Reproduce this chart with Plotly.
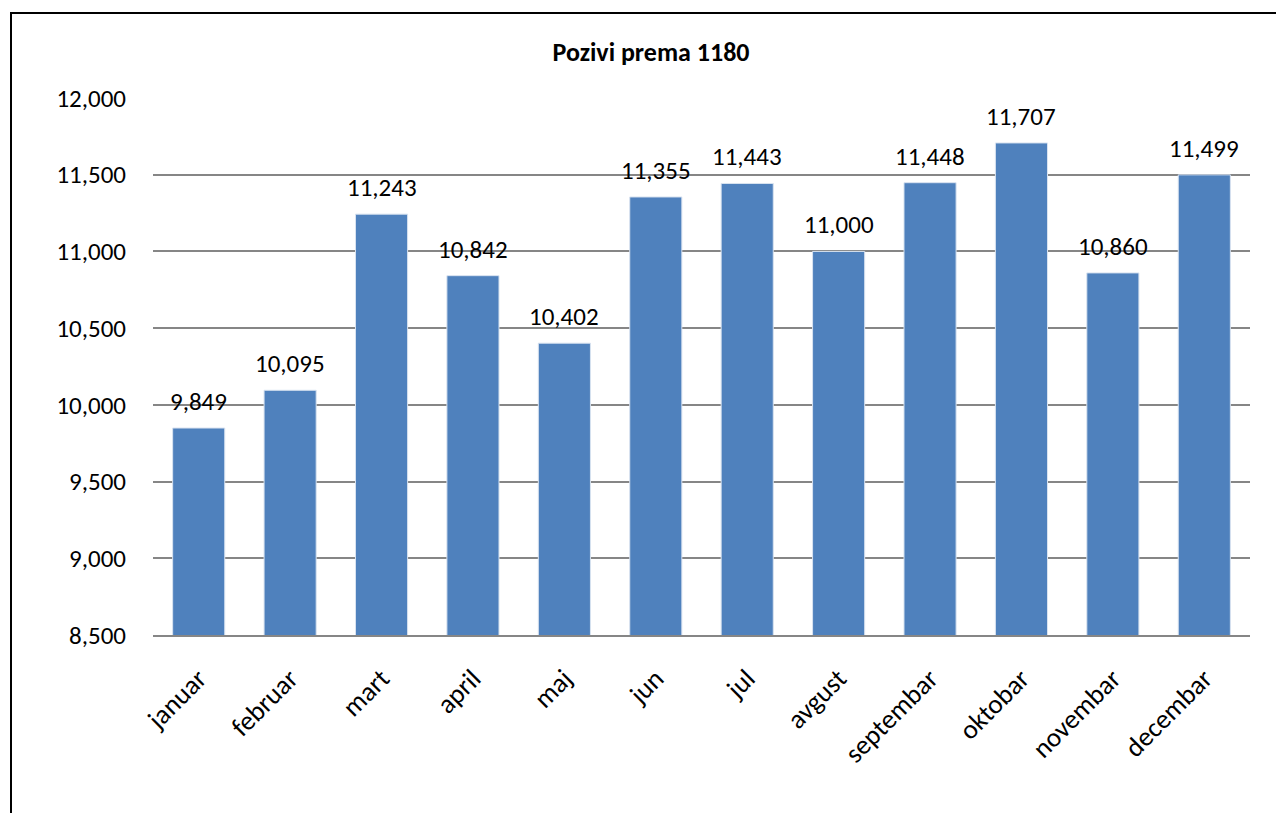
import plotly.graph_objects as go

months = ["januar", "februar", "mart", "april", "maj", "jun", "jul", "avgust",
          "septembar", "oktobar", "novembar", "decembar"]
calls = [9849, 10095, 11243, 10842, 10402, 11355, 11443, 11000, 11448, 11707, 10860, 11499]
title_text = "Pozivi prema 1180"

FONT = "Carlito, Lato, Calibri, sans-serif"
W, H = 1284, 813
OFF = 8  # page offset of the figure in the browser
L, R, T, B = 153 - OFF, 34 + OFF, 98 - OFF, 178 + OFF
pw, ph = W - L - R, H - T - B

fig = go.Figure(go.Bar(
    x=months, y=calls,
    marker=dict(color="#4F81BD", line=dict(color="#D9E3F0", width=1)),
    hoverinfo="skip",
))

for m, v in zip(months, calls):
    fig.add_annotation(x=m, y=v, text=f"{v:,}", showarrow=False,
                       yanchor="bottom", yshift=9,
                       font=dict(family=FONT, size=25, color="#000000"))

def px_x(p):
    return (p - OFF - L) / pw

def px_y(p):
    return (H - B - (p - OFF)) / ph

fig.add_shape(type="rect", xref="paper", yref="paper",
              x0=px_x(11), x1=px_x(1320), y0=px_y(840), y1=px_y(13),
              line=dict(color="#000000", width=2), fillcolor="rgba(0,0,0,0)")

fig.update_layout(
    width=W, height=H,
    margin=dict(l=L, r=R, t=T, b=B),
    paper_bgcolor="#FFFFFF", plot_bgcolor="#FFFFFF",
    bargap=0.43,
    showlegend=False,
    font=dict(family=FONT, size=25, color="#000000"),
    title=dict(text="<b>" + title_text + "</b>", xref="container", yref="container",
               x=(651 - OFF) / W, y=1 - (52 - OFF) / H, xanchor="center", yanchor="middle",
               font=dict(family=FONT, size=26, color="#000000")),
    xaxis=dict(tickangle=-45, showgrid=False, showline=True, linecolor="#868686",
               linewidth=2, ticks="outside", ticklen=15, tickcolor="rgba(0,0,0,0)",
               tickfont=dict(family=FONT, size=27)),
    yaxis=dict(range=[8500, 12000], dtick=500, tickformat=",", showgrid=True,
               gridcolor="#868686", gridwidth=2, showline=False, zeroline=False,
               ticks="outside", ticklen=21, tickcolor="rgba(0,0,0,0)",
               tickfont=dict(family=FONT, size=25)),
)

fig.write_html("out.html")
